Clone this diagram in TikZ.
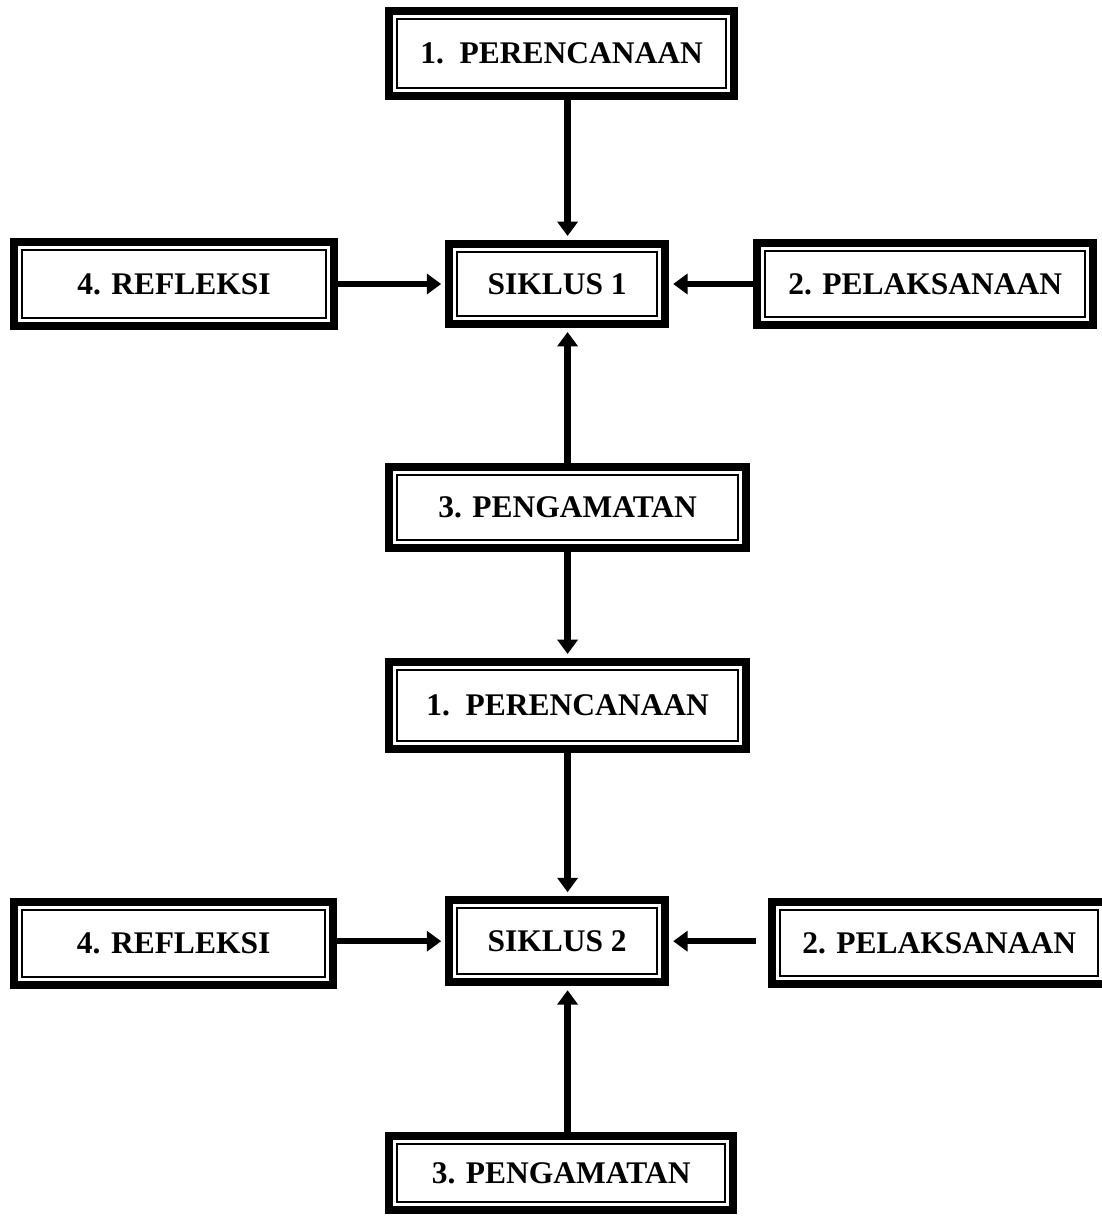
\documentclass[tikz,border=0pt]{standalone}
\usepackage{fontspec}
\setmainfont{Liberation Serif}
\usepackage{tikz}
\usetikzlibrary{positioning, arrows.meta}

\begin{document}
\begin{tikzpicture}[on grid,
  dbox/.style={draw, line width=0.2cm, inner sep=0pt, minimum height=2.05cm,
    font=\fontsize{22.4}{26}\selectfont\bfseries,
    path picture={\draw[line width=0.05cm]
      ([shift={(0.2cm,0.2cm)}]path picture bounding box.south west) rectangle
      ([shift={(-0.2cm,-0.2cm)}]path picture bounding box.north east);}},
  arr/.style={line width=0.16cm, -{Triangle[length=0.36cm, width=0.5cm]}, shorten >=0.1cm}]

  \useasboundingbox (-13.93,7.10) rectangle (13.62,-23.35); % page size

  % Siklus 1
  \node[dbox, minimum width=5.4cm, minimum height=2cm] (s1) {SIKLUS 1};  % centre of cycle 1
  \node[dbox, minimum width=8.63cm, minimum height=2.13cm] (p1) [above=5.76cm of s1, xshift=0.11cm] {1.\ \ PERENCANAAN};
  \node[dbox, minimum width=8cm, minimum height=2.08cm] (r1) [left=9.58cm of s1] {4. REFLEKSI};
  \node[dbox, minimum width=8.4cm] (l1) [right=9.2cm of s1] {2. PELAKSANAAN};
  \node[dbox, minimum width=8.93cm, minimum height=2.03cm] (g1) [below=5.59cm of s1, xshift=0.26cm] {3. PENGAMATAN};

  % Siklus 2
  \node[dbox, minimum width=8.93cm, minimum height=2.18cm] (p2) [below=4.95cm of g1] {1.\ \ PERENCANAAN};
  \node[dbox, minimum width=5.4cm] (s2) [below=5.89cm of p2, xshift=-0.26cm] {SIKLUS 2};  % centre of cycle 2
  \node[dbox, minimum width=7.98cm, minimum height=2.08cm] (r2) [left=9.59cm of s2, yshift=-0.06cm] {4. REFLEKSI};
  \node[dbox, minimum width=8.35cm] (l2) [right=9.55cm of s2, yshift=-0.05cm] {2. PELAKSANAAN};
  \node[dbox, minimum width=8.6cm, minimum height=1.85cm] (g2) [below=5.8cm of s2, xshift=0.1cm] {3. PENGAMATAN};

  % Arrows
  \draw[arr] (p1.south -| g1) -- (s1.north -| g1);   % planning into cycle 1
  \draw[arr] (r1.east) -- (s1.west);
  \draw[arr] (l1.west) -- (s1.east);
  \draw[arr] (g1.north) -- (s1.south -| g1);
  \draw[arr] (g1.south) -- (p2.north);                % on to cycle 2
  \draw[arr] (p2.south) -- (s2.north -| p2);
  \draw[arr] (r2.east |- s2) -- (s2.west);
  \draw[arr, shorten <=0.3cm] (l2.west |- s2) -- (s2.east);
  \draw[arr] (g2.north -| p2) -- (s2.south -| p2);

\end{tikzpicture}
\end{document}
